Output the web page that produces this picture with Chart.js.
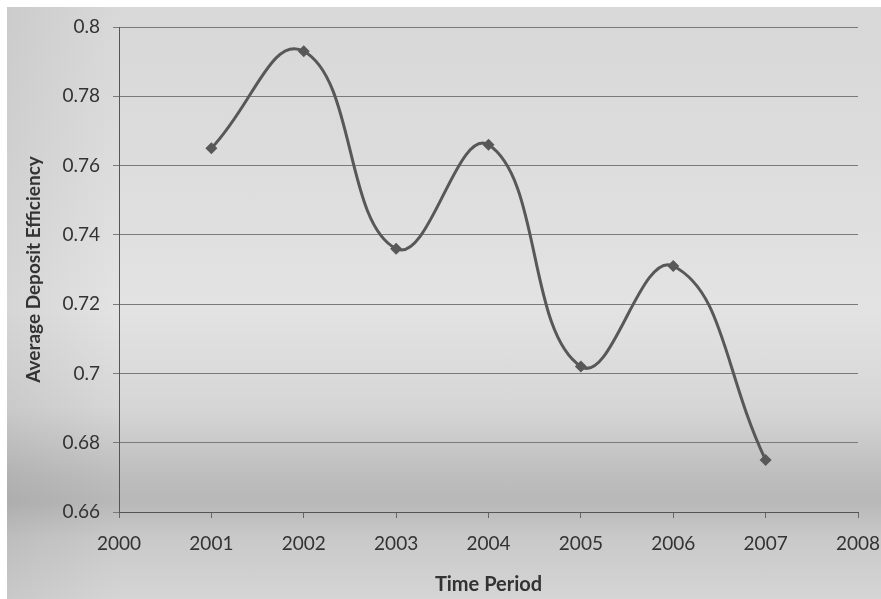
<!DOCTYPE html>
<html>
<head>
<meta charset="utf-8">
<script src="https://cdn.jsdelivr.net/npm/chart.js@4.4.1/dist/chart.umd.min.js"></script>
<style>
    html, body { margin: 0; padding: 0; background: #ffffff; }
    #wrap {
        position: absolute;
        left: 0; top: 0;
        width: 881px; height: 599px;
    }
    #bg {
        position: absolute;
        left: 7px; top: 7px; right: 0; bottom: 0;
        background: linear-gradient(to bottom,
            #d8d8d8 0px, #dcdcdc 140px, #e3e3e3 300px, #d6d6d6 400px,
            #bdbdbd 470px, #b8b8b8 495px, #c9c9c9 530px, #d5d5d5 592px);
    }
    #bg::after {
        content: '';
        position: absolute; left: 0; top: 0; right: 0; bottom: 0;
        background: linear-gradient(to right, rgba(0,0,0,0.06) 0px, rgba(0,0,0,0) 110px);
    }
    canvas { position: absolute; left: 0; top: 0; }
</style>
</head>
<body>
<div id="wrap">
    <div id="bg"></div>
    <canvas id="chart" width="881" height="599"></canvas>
</div>
<script>
const years = [2001, 2002, 2003, 2004, 2005, 2006, 2007];
const efficiency = [0.765, 0.793, 0.736, 0.766, 0.702, 0.731, 0.675];

const yMin = 0.66;
const yMax = 0.8;
const yStep = 0.02;
const xMin = 2000;
const xMax = 2008;

const textColor = '#333333';
const fontFamily = "Lato, 'Open Sans', sans-serif";

document.addEventListener('DOMContentLoaded', () => {
    Chart.defaults.font.family = fontFamily;
    Chart.defaults.color = textColor;

    new Chart(document.getElementById('chart').getContext('2d'), {
        type: 'line',
        data: {
            datasets: [{
                data: years.map((y, i) => ({ x: y, y: efficiency[i] })),
                borderColor: '#585858',
                backgroundColor: '#585858',
                borderWidth: 3,
                tension: 0.45,
                pointStyle: 'rectRot',
                pointRadius: 6,
                pointBorderWidth: 0,
                fill: false
            }]
        },
        options: {
            responsive: false,
            animation: false,
            layout: { padding: { left: 22, right: 23, top: 27, bottom: 2 } },
            plugins: {
                legend: { display: false },
                tooltip: { enabled: false }
            },
            scales: {
                x: {
                    type: 'linear',
                    min: xMin,
                    max: xMax,
                    ticks: {
                        stepSize: 1,
                        padding: 14,
                        color: textColor,
                        font: { size: 19 },
                        callback: v => String(v)
                    },
                    grid: {
                        drawOnChartArea: false,
                        drawTicks: true,
                        tickLength: 6,
                        color: '#666666'
                    },
                    border: { color: '#555555', width: 1 },
                    title: {
                        display: true,
                        text: 'Time Period',
                        color: textColor,
                        font: { size: 20, weight: 'bold' },
                        padding: { top: 6, bottom: 0 }
                    },
                    afterFit: s => {
                        s.height = 599 - 512 - 2;
                        s.paddingRight = 0;
                        s.paddingLeft = 0;
                    }
                },
                y: {
                    min: yMin,
                    max: yMax,
                    ticks: {
                        stepSize: yStep,
                        padding: 13,
                        color: textColor,
                        font: { size: 19 },
                        callback: v => String(Math.round(v * 100) / 100)
                    },
                    grid: {
                        color: '#7a7a7a',
                        lineWidth: 1,
                        tickLength: 6
                    },
                    border: { color: '#555555', width: 1 },
                    title: {
                        display: true,
                        text: 'Average Deposit Efficiency',
                        color: textColor,
                        font: { size: 19, weight: 'bold' },
                        padding: { top: 0, bottom: 4 }
                    },
                    afterFit: s => { s.width = 119 - 22; }
                }
            }
        }
    });
});
</script>
</body>
</html>
